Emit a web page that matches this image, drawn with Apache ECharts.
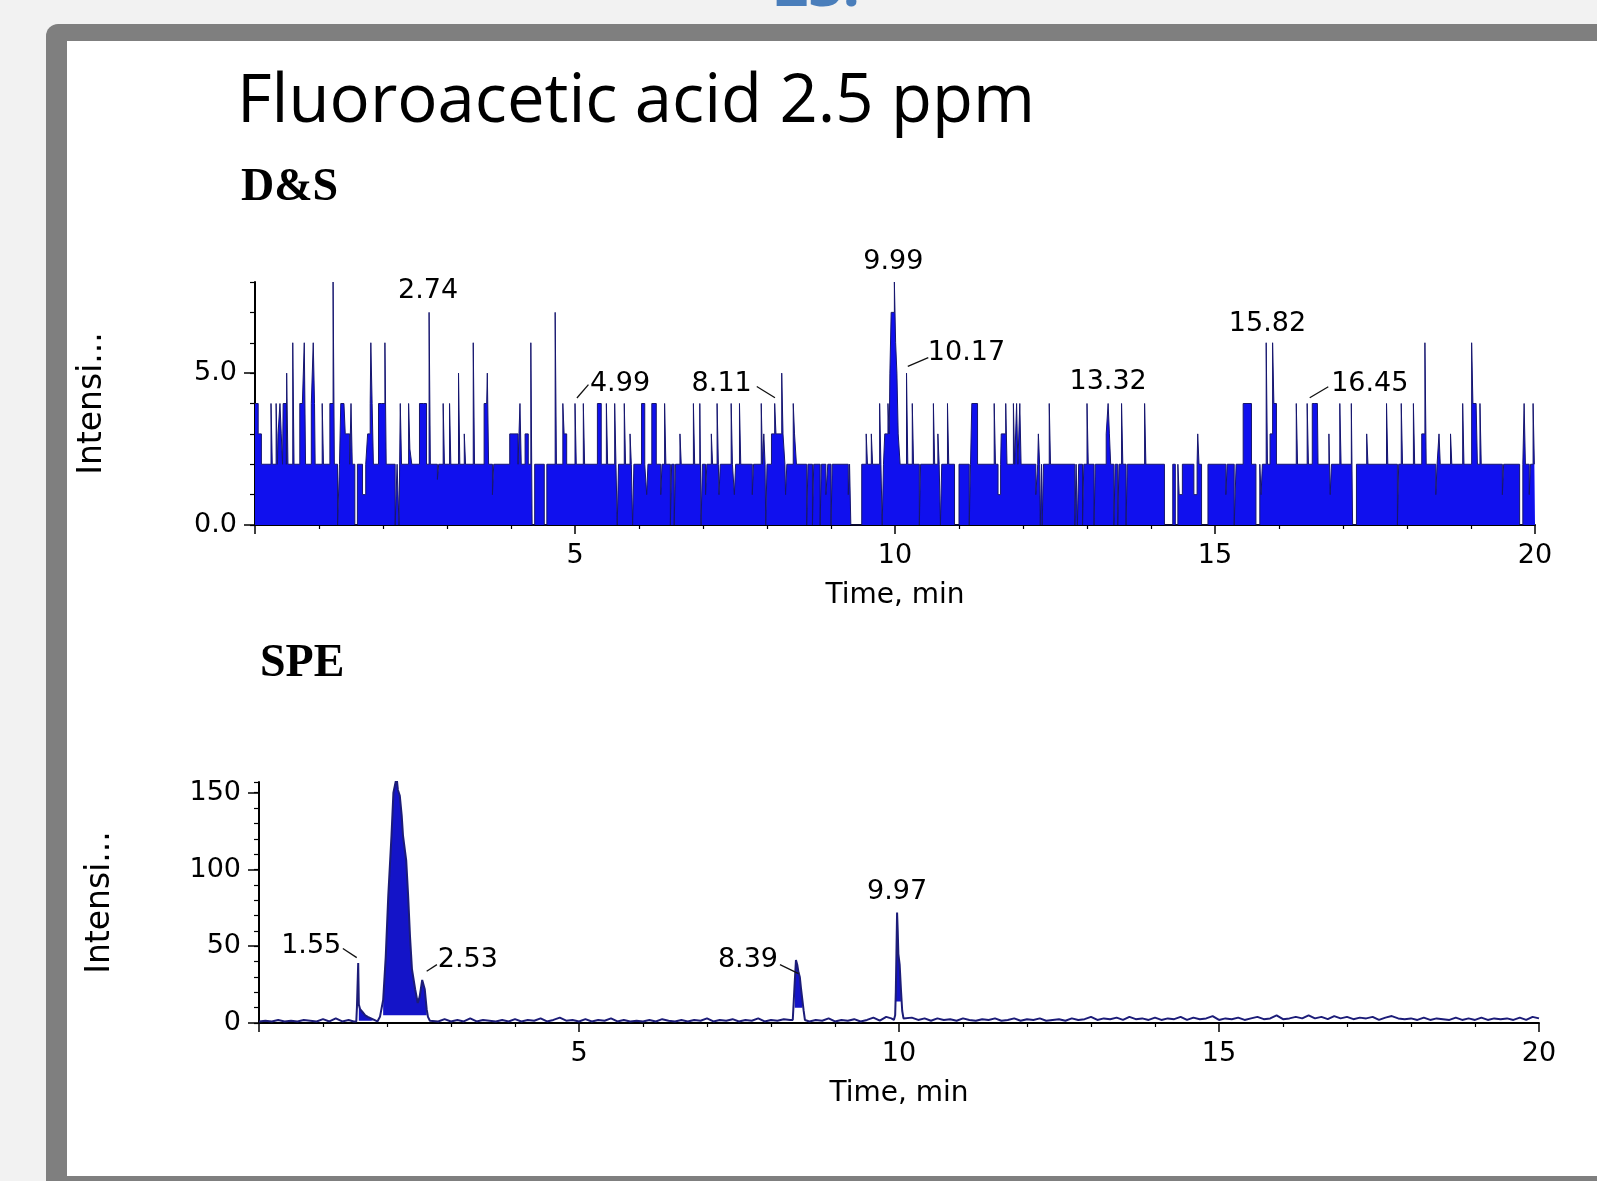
<!DOCTYPE html>
<html><head><meta charset="utf-8">
<script src="https://cdn.jsdelivr.net/npm/echarts@6/dist/echarts.min.js"></script>
<style>html,body{margin:0;padding:0;background:#f2f2f2}#c{width:1597px;height:1181px}</style>
</head><body><div id="c"></div>
<script>
// ---------- DATA ----------
const xTickLabels = [5, 10, 15, 20];
const dsYTickLabels = [0, 5];
const speYTickLabels = [0, 50, 100, 150];

// D&S trace: baseline level 2 with segments [t0, t1, level] and one-sample spikes [t, level]
const dsBaseLevel = 2;
const dsBlocks = [
  [0.00,0.05,4],[0.05,0.10,3],[0.36,0.43,3],[0.44,0.49,4],[0.70,0.78,4],[0.88,0.94,4],
  [1.17,1.24,4],[1.29,1.32,0],[1.34,1.41,4],[1.41,1.48,3],[1.56,1.60,0],[1.68,1.73,1],
  [1.76,1.80,3],[1.80,1.85,4],[1.93,2.03,4],[2.19,2.22,0],[2.25,2.29,0],[2.42,2.45,2.5],
  [2.57,2.68,4],[2.85,2.87,1.5],[3.58,3.65,4],[3.71,3.73,1],[3.98,4.11,3],[4.22,4.27,3],
  [4.33,4.37,0],[4.52,4.56,0],[4.83,4.87,3],[5.35,5.41,4],[5.66,5.68,0],[5.90,5.92,0],
  [6.04,6.09,4],[6.12,6.14,1],[6.20,6.27,4],[6.34,6.36,1],[6.49,6.51,0],[6.55,6.57,0],
  [6.97,6.99,0],[7.04,7.06,1],[7.25,7.27,1],[7.49,7.51,1],[7.77,7.79,1],[7.98,8.00,0],
  [8.07,8.28,3],[8.29,8.31,1],[8.42,8.46,3],[8.62,8.64,0],[8.71,8.73,0],[8.83,8.85,0],
  [8.92,8.95,1],[9.00,9.02,0],[9.27,9.29,1],[9.31,9.48,0],[9.80,9.82,0],[9.84,9.92,3],
  [9.92,9.94,5],[9.94,9.97,7],[9.97,10.01,7],[10.01,10.03,6],[10.03,10.05,5],[10.05,10.08,3],
  [10.38,10.40,0],[10.71,10.73,0],[10.93,11.00,0],[11.16,11.18,0],[11.20,11.29,4],
  [11.61,11.65,1],[11.66,11.74,3],[12.20,12.23,1],[12.27,12.29,0],[12.30,12.32,0],
  [12.81,12.83,0],[12.85,12.87,0],[12.93,12.95,0],[13.11,13.13,0],[13.30,13.37,3],
  [13.42,13.44,0],[13.48,13.50,0],[13.61,13.63,0],[14.21,14.34,0],[14.38,14.42,0],
  [14.44,14.49,1],[14.67,14.72,1],[14.79,14.89,0],[15.17,15.19,1],[15.30,15.33,0],
  [15.44,15.57,4],[15.64,15.70,0],[15.72,15.74,1],[15.86,15.91,3],[15.91,15.96,4],
  [16.52,16.61,4],[16.80,16.82,1],[17.15,17.21,0],[17.85,17.87,0],[18.23,18.28,3],
  [18.45,18.47,1],[19.01,19.08,4],[19.49,19.51,1],[19.76,19.81,0],[19.91,19.93,1]
];
const dsSpikes = [
  [0.25,4],[0.33,4],[0.39,4],[0.495,5],[0.59,6],[0.72,4],[0.77,6],[0.91,6],[1.05,4],[1.22,8],
  [1.35,4],[1.39,4],[1.50,4],[1.81,6],[1.96,4],[2.03,6],[2.27,4],[2.40,4],[2.57,4],[2.63,4],
  [2.72,7],[2.94,4],[3.04,4],[3.18,5],[3.27,3],[3.41,6],[3.60,4],[3.63,5],[4.14,4],[4.31,6],
  [4.69,7],[4.81,4],[5.00,4],[5.13,4],[5.49,4],[5.62,4],[5.77,4],[5.86,3],[6.40,4],[6.64,3],
  [6.85,4],[6.95,4],[7.13,3],[7.22,4],[7.44,4],[7.57,4],[7.91,4],[7.95,3],[8.12,4],[8.23,5],
  [8.41,4],[9.55,3],[9.63,3],[9.76,4],[9.89,4],[9.99,8],[10.18,5],[10.27,4],[10.60,4],[10.67,3],
  [10.82,4],[11.55,4],[11.73,4],[11.85,4],[11.90,4],[11.95,4],[12.24,3],[12.41,4],[13.00,4],
  [13.33,4],[13.54,4],[13.90,4],[14.73,3],[15.80,6],[15.90,6],[16.27,4],[16.44,4],[16.54,4],
  [16.58,4],[16.78,3],[16.95,4],[17.13,4],[17.37,3],[17.68,4],[17.91,4],[18.10,4],[18.28,6],
  [18.50,3],[18.68,3],[18.87,4],[19.01,6],[19.08,4],[19.14,4],[19.83,4],[19.97,4]
];
const dsLabels = [[2.72,7,'2.74'],[5.00,4,'4.99'],[8.12,4,'8.11'],[9.99,8,'9.99'],
  [10.18,5,'10.17'],[13.33,4,'13.32'],[15.82,6,'15.82'],[16.45,4,'16.45']];
const dsLeaders = [[[5.03,4.18],[5.21,4.62]],[[8.125,4.19],[7.84,4.56]],
  [[10.20,5.22],[10.52,5.51]],[[16.48,4.19],[16.77,4.55]]];

// SPE trace [time, intensity]
const speTrace = [
  [0.0,1],[0.1,1.5],[0.2,1],[0.3,2],[0.4,1],[0.5,1.5],[0.6,1],[0.7,2],[0.8,1.5],[0.9,1],[1.0,2.5],
  [1.1,1],[1.2,3],[1.3,1],[1.4,2],[1.48,1],[1.52,1],[1.53,10],[1.55,39],[1.56,12],[1.58,9],
  [1.62,7],[1.66,5],[1.70,4],[1.75,3],[1.80,2],[1.85,1],[1.89,4],[1.94,15],[1.98,43],[2.02,83],
  [2.07,122],[2.10,150],[2.13,156],[2.15,160],[2.17,152],[2.20,148],[2.23,135],[2.25,122],
  [2.30,106],[2.33,83],[2.36,56],[2.39,35],[2.44,22],[2.48,13],[2.51,17],[2.55,28],[2.59,22],
  [2.62,9],[2.64,4],[2.67,1.5],[2.7,2],[2.8,1],[2.9,2.5],[3.0,1],[3.1,2],[3.2,1],[3.3,3],[3.4,1],
  [3.5,2],[3.6,1.5],[3.7,1],[3.8,2],[3.9,1],[4.0,2.5],[4.1,1],[4.2,2],[4.3,1.5],[4.4,3],[4.5,1],
  [4.6,2],[4.7,3.5],[4.8,1.5],[4.9,2],[5.0,1],[5.1,2.5],[5.2,1],[5.3,2],[5.4,1.5],[5.5,3],[5.6,1],
  [5.7,2],[5.8,1],[5.9,1.5],[6.0,1],[6.1,2],[6.2,1],[6.3,2.5],[6.4,1.5],[6.5,1],[6.6,2],[6.7,1],
  [6.8,2],[6.9,1.5],[7.0,3],[7.1,1],[7.2,2],[7.3,1.5],[7.4,2.5],[7.5,1],[7.6,2],[7.7,1.5],[7.8,3],
  [7.9,1],[8.0,2],[8.1,1.5],[8.2,2.5],[8.3,2],[8.34,2],[8.36,3],[8.37,26],[8.39,41],[8.41,38],
  [8.43,33],[8.45,30],[8.47,22],[8.49,15],[8.51,8],[8.53,2],[8.6,1],[8.7,2],[8.8,1.5],[8.9,3],
  [9.0,1],[9.1,2],[9.2,1.5],[9.3,2.5],[9.4,1],[9.5,2],[9.6,3.5],[9.7,1.5],[9.8,4],[9.88,3],
  [9.92,2],[9.94,5],[9.95,20],[9.97,72],[9.98,60],[9.99,45],[10.01,38],[10.03,22],[10.05,8],
  [10.07,3],[10.1,2],[10.2,3.5],[10.3,2],[10.4,3],[10.5,1.5],[10.6,3],[10.7,2],[10.8,2.5],
  [10.9,1.5],[11.0,3],[11.1,2],[11.2,1.5],[11.3,2.5],[11.4,2],[11.5,3],[11.6,1.5],[11.7,2],
  [11.8,3],[11.9,1.5],[12.0,2.5],[12.1,2],[12.2,3],[12.3,1.5],[12.4,2],[12.5,2.5],[12.6,1.5],
  [12.7,3],[12.8,2],[12.9,2.5],[13.0,4],[13.1,2],[13.2,3],[13.3,2.5],[13.4,3.5],[13.5,2],[13.6,4],
  [13.7,2.5],[13.8,3],[13.9,2],[14.0,3.5],[14.1,2],[14.2,3],[14.3,2.5],[14.4,4],[14.5,2],[14.6,3.5],
  [14.7,2.5],[14.8,3],[14.9,4.5],[15.0,2],[15.1,3],[15.2,2.5],[15.3,3.5],[15.4,2],[15.5,3],[15.6,4],
  [15.7,2.5],[15.8,3],[15.9,5],[16.0,2.5],[16.1,3],[16.2,4],[16.3,3],[16.4,5],[16.5,3],[16.6,4],
  [16.7,2.5],[16.8,4.5],[16.9,3],[17.0,4],[17.1,2.5],[17.2,3.5],[17.3,3],[17.4,4],[17.5,2],[17.6,3.5],
  [17.7,4.5],[17.8,3],[17.9,2.5],[18.0,3],[18.1,2],[18.2,3.5],[18.3,2],[18.4,3],[18.5,2.5],[18.6,2],
  [18.7,3.5],[18.8,2],[18.9,3],[19.0,2],[19.1,3.5],[19.2,2],[19.3,3],[19.4,2.5],[19.5,3],[19.6,2],
  [19.7,3.5],[19.8,2],[19.9,4],[20.0,3]
];
// integrated peak areas [t0, t1, baseline intensity]
const speFills = [[1.56,1.86,1.5],[1.93,2.65,5],[8.37,8.52,10],[9.95,10.04,14]];
const speLabels = [[1.55,39,'1.55'],[2.53,28,'2.53'],[8.39,41,'8.39'],[9.97,72,'9.97']];
const speLeaders = [[[1.527,42.6],[1.31,48.5]],[[2.62,33.7],[2.78,38]],[[8.43,32.2],[8.14,38]]];

// ---------- build step list for D&S ----------
function buildSteps(blocks, spikes, base, spikeW, tMax) {
  const segs = [];
  blocks.forEach(b => segs.push({t0:b[0], t1:b[1], v:b[2], p:1}));
  spikes.forEach(s => segs.push({t0:s[0], t1:s[0] + spikeW, v:s[1], p:2}));
  const set = new Set([0, tMax]);
  segs.forEach(s => { set.add(+s.t0.toFixed(4)); set.add(+s.t1.toFixed(4)); });
  const times = Array.from(set).sort((a, b) => a - b);
  return times.map(t => {
    let v = base, p = 0;
    segs.forEach(s => { if (t >= s.t0 - 1e-9 && t < s.t1 - 1e-9 && s.p >= p) { v = s.v; p = s.p; } });
    return [t, v];
  });
}
const dsSteps = buildSteps(dsBlocks, dsSpikes, dsBaseLevel, 0.02, 20);

// ---------- styles ----------
const dsLabelOffsets = [[-1,-21],[45,-20],[-53,-20],[-1,-20],[60,-20],[0,-22],[0,-19],[62,-20]];
const speLabelOffsets = [[-47,-17],[47,-20],[-48,0],[0,-20]];
const F = 'DejaVu Sans';
const TXT = '#000';
const FS = 27;
const axisLine = {lineStyle:{color:'#000', width:2}};

function xAx(gridIndex) {
  return {
    type:'value', gridIndex, min:0, max:20, interval:5,
    name:'Time, min', nameLocation:'middle', nameGap:57,
    nameTextStyle:{fontFamily:F, fontSize:28, color:TXT},
    axisLine, splitLine:{show:false},
    axisTick:{length:9, lineStyle:{color:'#000', width:1.5}},
    minorTick:{show:true, splitNumber:5, length:4, lineStyle:{color:'#000', width:1.2}},
    axisLabel:{customValues:xTickLabels, margin:17, fontFamily:F, fontSize:FS, color:TXT}
  };
}
function yAxMain(gridIndex, max, interval, labels, fmt, gap) {
  return {
    type:'value', gridIndex, position:'left', min:0, max, interval,
    name:'Intensi...', nameLocation:'middle', nameGap:gap,
    nameTextStyle:{fontFamily:F, fontSize:33, color:TXT},
    axisLine:{show:true, lineStyle:{color:'#000', width:2}}, splitLine:{show:false},
    axisTick:{length:5, lineStyle:{color:'#000', width:1.2}},
    axisLabel:{customValues:labels, formatter:fmt, margin:18, fontFamily:F, fontSize:FS, color:TXT}
  };
}
function yAxMajor(gridIndex, max, interval, labels) {
  return {
    type:'value', gridIndex, position:'left', offset:0, min:0, max, interval,
    axisLine:{show:false}, splitLine:{show:false}, axisLabel:{show:false},
    axisTick:{show:true, customValues:labels, length:11, lineStyle:{color:'#000', width:1.5}}
  };
}

function labelSeries(list, offsets, xi, yi) {
  return {
    type:'scatter', xAxisIndex:xi, yAxisIndex:yi, symbolSize:1, z:10,
    itemStyle:{color:'rgba(0,0,0,0)'},
    data: list.map((d, i) => ({value:[d[0], d[1]], name:d[2], label:{offset:offsets[i]}})),
    label:{show:true, position:'inside', formatter:'{b}', fontFamily:F, fontSize:FS, color:TXT,
           opacity:1, textBorderWidth:0},
    silent:true
  };
}
function leaderSeries(list, xi, yi) {
  return list.map(seg => ({
    type:'line', xAxisIndex:xi, yAxisIndex:yi, data:seg, symbol:'none', z:9,
    lineStyle:{color:'#111', width:1.3}, silent:true
  }));
}

const chart = echarts.init(document.getElementById('c'), null, {renderer:'canvas'});
chart.setOption({
  animation:false,
  backgroundColor:'#f2f2f2',
  grid:[
    {left:255, top:282, width:1280, height:243, outerBoundsMode:'none'},
    {left:259, top:782, width:1280, height:241, outerBoundsMode:'none'}
  ],
  xAxis:[xAx(0), xAx(1)],
  yAxis:[
    yAxMain(0, 8, 1, dsYTickLabels, v => v.toFixed(1), 146),
    yAxMajor(0, 8, 1, dsYTickLabels),
    yAxMain(1, 157, 10, speYTickLabels, v => String(v), 142),
    yAxMajor(1, 157, 10, speYTickLabels)
  ],
  graphic:[
    {type:'rect', z:-10, shape:{x:46, y:24, width:1600, height:1200, r:[12,0,0,0]}, style:{fill:'#7f7f7f'}},
    {type:'rect', z:-9, shape:{x:67, y:41, width:1600, height:1135}, style:{fill:'#ffffff'}},
    {type:'text', z:-8, x:817, y:-11, style:{text:'23.', font:'bold 60px "Open Sans"', fill:'#4a7ebb', align:'center', verticalAlign:'middle'}},
    {type:'text', z:-8, x:237, y:103, style:{text:'Fluoroacetic acid 2.5 ppm', font:'67px "Open Sans"', fill:'#000', align:'left', verticalAlign:'middle'}},
    {type:'text', z:-8, x:241, y:188, style:{text:'D&S', font:'bold 46px "Liberation Serif"', fill:'#000', align:'left', verticalAlign:'middle'}},
    {type:'text', z:-8, x:260, y:664, style:{text:'SPE', font:'bold 46px "Liberation Serif"', fill:'#000', align:'left', verticalAlign:'middle'}}
  ],
  series:[
    {type:'line', xAxisIndex:0, yAxisIndex:0, data:dsSteps, step:'end', symbol:'none', showSymbol:false,
     lineStyle:{color:'#16166e', width:1}, areaStyle:{color:'#1010ee', opacity:1}, z:2, silent:true},
    ...speFills.map(f => ({
      type:'line', xAxisIndex:1, yAxisIndex:2, symbol:'none', z:2, silent:true,
      data: speTrace.filter(p => p[0] >= f[0] && p[0] <= f[1] && p[1] >= f[2]),
      lineStyle:{width:0}, areaStyle:{origin:f[2], color:'#1414c8', opacity:1}
    })),
    {type:'line', xAxisIndex:1, yAxisIndex:2, data:speTrace, symbol:'none', z:3, silent:true,
     lineStyle:{color:'#1c1c78', width:2}},
    labelSeries(dsLabels, dsLabelOffsets, 0, 0),
    labelSeries(speLabels, speLabelOffsets, 1, 2),
    ...leaderSeries(dsLeaders, 0, 0),
    ...leaderSeries(speLeaders, 1, 2)
  ]
});
</script></body></html>
